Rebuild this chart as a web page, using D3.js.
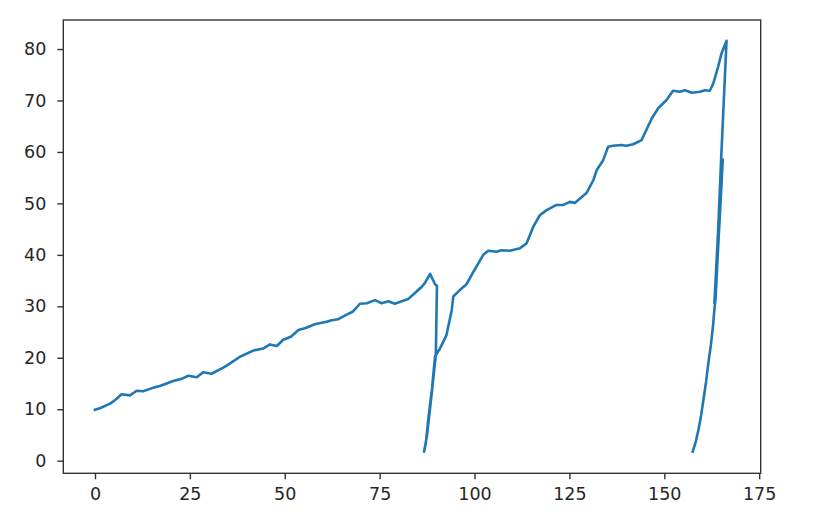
<!DOCTYPE html>
<html>
<head>
<meta charset="utf-8">
<script src="https://cdn.jsdelivr.net/npm/d3@7"></script>
<style>
  html, body { margin: 0; padding: 0; background: #fff; }
  svg { display: block; }
  text { font-family: "DejaVu Sans", sans-serif; }
</style>
</head>
<body>
<svg id="chart" width="827" height="531"></svg>
<script>
// ---- data ----
const xValues = [
  0, 1.3, 4, 5.5, 7, 9.2, 11, 12.7, 15.4, 17.1, 20.6, 22.8, 24.6, 26.8, 28.5, 30.7,
  33.8, 35.6, 38.2, 41.7, 44.3, 46.1, 47.9, 49.6, 51.6, 53.6, 55.5, 57.9, 61, 62.4,
  64.1, 66.3, 68, 69.8, 71.6, 73.8, 75.5, 77.3, 79, 80.8, 82.5, 84.3, 86.1, 86.9,
  88.3, 89.6, 90.1,
  89.8, 88.8, 87.5, 86.7, 87.2, 87.9, 88.8, 89.6,
  90.9, 91.75, 92.6, 94.0, 94.4, 96.2, 97.9, 99.7, 102.3, 103.6, 105.8, 107.1, 109.3,
  112, 113.7, 115.5, 117.2, 119, 121.6, 123.4, 125.1, 126.4, 129.5, 131.3, 132.2,
  133.9, 135.2, 136.5, 138.7, 140, 141.8, 144, 145.3, 146.7, 148.4, 150.6, 152.3,
  154.1, 155.4, 157.3, 159.4, 160.7, 162, 162.9, 164.2, 165.1, 166.4,
  165.0, 164.2, 163.2, 163.7, 164.6, 165.4, 164.3, 163.5,
  163.1, 162.9, 162.3, 161.6, 161.0, 160.3, 159.7, 159, 158.3, 157.5
];
const yValues = [
  9.9, 10.2, 11.1, 11.9, 12.9, 12.7, 13.6, 13.5, 14.2, 14.5, 15.5, 15.9, 16.5, 16.2, 17.2, 16.9,
  18.1, 18.9, 20.2, 21.4, 21.8, 22.6, 22.3, 23.5, 24.1, 25.4, 25.8, 26.5, 27.0, 27.3,
  27.5, 28.4, 29, 30.5, 30.6, 31.2, 30.6, 31.0, 30.5, 31.0, 31.4, 32.6, 33.8, 34.5,
  36.3, 34.3, 34.0,
  20.5, 13.6, 5.0, 1.75, 3.6, 8.6, 14.0, 20.3,
  21.8, 23.1, 24.4, 29.3, 31.9, 33.2, 34.3, 36.7, 40.0, 40.8, 40.6, 40.9, 40.8,
  41.3, 42.2, 45.5, 47.7, 48.7, 49.7, 49.7, 50.3, 50.1, 52.0, 54.5, 56.5,
  58.4, 61.0, 61.2, 61.35, 61.2, 61.5, 62.3, 64.3, 66.5, 68.5, 70.1, 71.9,
  71.7, 72.0, 71.5, 71.7, 72.0, 71.9, 73.3, 76.6, 79.2, 81.6,
  59.0, 45.0, 30.6, 36.0, 47.0, 58.5, 43.0, 31.5,
  28.6, 26.7, 22.6, 18.9, 15.3, 11.8, 8.8, 6.0, 3.7, 1.75
];
const xTickValues = [0, 25, 50, 75, 100, 125, 150, 175];
const yTickValues = [0, 10, 20, 30, 40, 50, 60, 70, 80];

// ---- layout ----
const plot = { left: 63.3, top: 20, right: 760.7, bottom: 473.3 };
const svg = d3.select("#chart");

const x = d3.scaleLinear().domain([-8.35, 175.4]).range([plot.left, plot.right]);
const y = d3.scaleLinear().domain([-2.45, 85.64]).range([plot.bottom, plot.top]);

const points = xValues.map((v, i) => [v, yValues[i]]);

// line
const line = d3.line().x(d => x(d[0])).y(d => y(d[1]));
svg.append("path")
  .datum(points)
  .attr("d", line)
  .attr("fill", "none")
  .attr("stroke", "#1f77b4")
  .attr("stroke-width", 2.6)
  .attr("stroke-linejoin", "round")
  .attr("stroke-linecap", "square");

// axes
const xAxis = d3.axisBottom(x).tickValues(xTickValues).tickSize(6).tickPadding(8).tickFormat(d3.format("d"));
const yAxis = d3.axisLeft(y).tickValues(yTickValues).tickSize(6).tickPadding(11).tickFormat(d3.format("d"));

const gx = svg.append("g").attr("transform", `translate(0,${plot.bottom})`).call(xAxis);
const gy = svg.append("g").attr("transform", `translate(${plot.left},0)`).call(yAxis);

[gx, gy].forEach(g => {
  g.select(".domain").remove();
  g.selectAll(".tick line").attr("stroke", "#333").attr("stroke-width", 1.4);
  g.selectAll(".tick text").attr("fill", "#262626").attr("font-size", 17.5)
    .attr("font-family", "'DejaVu Sans', sans-serif");
});

// frame (spines)
svg.append("rect")
  .attr("x", plot.left).attr("y", plot.top)
  .attr("width", plot.right - plot.left).attr("height", plot.bottom - plot.top)
  .attr("fill", "none").attr("stroke", "#333").attr("stroke-width", 1.4);
</script>
</body>
</html>
